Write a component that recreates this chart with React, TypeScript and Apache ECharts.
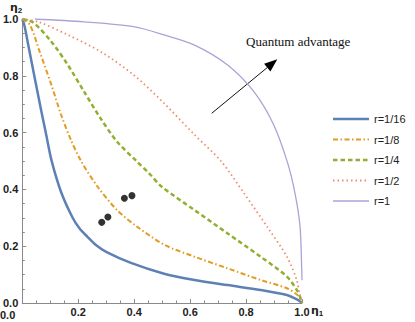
import React, { useEffect, useRef } from "react";
import * as echarts from "echarts";

const seriesNames = ["r=1/16", "r=1/8", "r=1/4", "r=1/2", "r=1"];

const r16: number[][] = [
  [0, 1], [0.008, 0.975], [0.025, 0.89], [0.045, 0.79], [0.065, 0.69], [0.085, 0.595],
  [0.104, 0.504], [0.139, 0.39], [0.18, 0.3], [0.205, 0.262], [0.233, 0.233], [0.262, 0.205],
  [0.3, 0.18], [0.386, 0.142], [0.504, 0.104], [0.616, 0.081], [0.734, 0.063], [0.852, 0.046],
  [0.946, 0.028], [0.985, 0.011], [1, 0],
];
const r8: number[][] = [
  [0, 1], [0.027, 0.98], [0.062, 0.885], [0.104, 0.768], [0.139, 0.662], [0.174, 0.574],
  [0.21, 0.5], [0.269, 0.41], [0.339, 0.327], [0.41, 0.269], [0.51, 0.204], [0.616, 0.163],
  [0.734, 0.122], [0.852, 0.081], [0.946, 0.052], [0.987, 0.025], [1, 0],
];
const r4: number[][] = [
  [0, 1], [0.039, 0.988], [0.104, 0.92], [0.163, 0.838], [0.221, 0.744], [0.28, 0.65],
  [0.339, 0.568], [0.41, 0.498], [0.455, 0.455], [0.498, 0.41], [0.616, 0.327], [0.734, 0.245],
  [0.852, 0.163], [0.946, 0.093], [0.987, 0.036], [1, 0],
];
const r2: number[][] = [
  [0, 1], [0.057, 0.99], [0.163, 0.944], [0.28, 0.885], [0.398, 0.803], [0.504, 0.706],
  [0.616, 0.592], [0.71, 0.5], [0.793, 0.386], [0.875, 0.269], [0.946, 0.163], [0.981, 0.081],
  [0.993, 0.022], [1, 0],
];
const r1: number[][] = [
  [0.045, 1], [0.221, 0.99], [0.398, 0.973], [0.507, 0.944], [0.616, 0.908], [0.734, 0.838],
  [0.828, 0.744], [0.899, 0.627], [0.948, 0.495], [0.975, 0.386], [0.993, 0.269], [0.999, 0.12], [1, 0.08],
];
const dots: number[][] = [[0.284, 0.284], [0.306, 0.303], [0.365, 0.369], [0.392, 0.378]];

const tickLabels = ["0.0", "0.2", "0.4", "0.6", "0.8", "1.0"];

const curveData = [r16, r8, r4, r2, r1];
const colors = ["#5E81B5", "#E19C24", "#8FB032", "#EF8B70", "#A9A3D6"];
const widths = [2.5, 2, 2.5, 1.8, 1.3];
const dashes: any[] = ["solid", [5, 2.5, 1.5, 2.5], [4.5, 3], [1.5, 3], "solid"];

export default function App() {
  const ref = useRef<HTMLDivElement>(null);
  useEffect(() => {
    if (!ref.current) return;
    const chart = echarts.init(ref.current, undefined, { renderer: "svg" });
    const labelStyle = {
      fontFamily: "Liberation Sans, Arial, sans-serif",
      fontWeight: "bold" as const,
      fontSize: 11,
      color: "#222",
    };
    const axisCommon = {
      type: "value" as const,
      min: 0,
      max: 1,
      interval: 0.2,
      splitLine: { show: false },
      axisLine: { show: true, lineStyle: { color: "#8a8a8a", width: 1 } },
      axisTick: { show: true, inside: true, length: 4, lineStyle: { color: "#8a8a8a" } },
      minorTick: { show: true, splitNumber: 4, length: 2.5, lineStyle: { color: "#8a8a8a" } },
    };
    const series: any[] = curveData.map((d, i) => ({
      name: seriesNames[i],
      type: "line",
      data: d,
      symbol: "none",
      showSymbol: false,
      smooth: 0.3,
      lineStyle: { color: colors[i], width: widths[i], type: dashes[i] },
      itemStyle: { color: colors[i] },
      z: 2 + i,
    }));
    series.push({
      name: "points",
      type: "scatter",
      data: dots,
      symbolSize: 7,
      itemStyle: { color: "#000" },
      z: 10,
    });
    // legend drawn as graphic elements
    const legendEls: any[] = [];
    seriesNames.forEach((name, i) => {
      const y = 119 + 20.5 * i;
      legendEls.push({
        type: "line",
        shape: { x1: 333, y1: y, x2: 369, y2: y },
        style: {
          stroke: colors[i],
          lineWidth: widths[i],
          lineDash: Array.isArray(dashes[i]) ? dashes[i] : null,
        },
      });
      legendEls.push({
        type: "text",
        x: 374,
        y: y,
        style: {
          text: name,
          fontFamily: "Liberation Sans, Arial, sans-serif",
          fontSize: 11,
          fill: "#222",
          verticalAlign: "middle",
        },
      });
    });
    // arrow geometry
    const tail = [211.7, 113.3];
    const tip = [277.3, 59.3];
    const dx = tip[0] - tail[0];
    const dy = tip[1] - tail[1];
    const len = Math.sqrt(dx * dx + dy * dy);
    const ux = dx / len, uy = dy / len;
    const hl = 13, hw = 5;
    const bx = tip[0] - hl * ux, by = tip[1] - hl * uy;
    const px = -uy, py = ux;
    const etaRich = {
      a: { fontFamily: "DejaVu Sans", fontWeight: "bold", fontSize: 11, fill: "#222" },
      b: { fontFamily: "Liberation Sans", fontWeight: "bold", fontSize: 8, fill: "#222", padding: [5, 0, 0, 0] },
    };
    chart.setOption({
      animation: false,
      grid: { left: 19, right: 113, top: 19, bottom: 19 },
      xAxis: {
        ...axisCommon,
        axisLabel: {
          ...labelStyle,
          margin: 3,
          lineHeight: 12,
          showMinLabel: false,
          formatter: (v: number) => tickLabels[Math.round(v / 0.2)],
        },
      },
      yAxis: {
        ...axisCommon,
        axisLabel: {
          ...labelStyle,
          margin: 4,
          lineHeight: 10,
          formatter: (v: number) => tickLabels[Math.round(v / 0.2)],
        },
      },
      graphic: [
        ...legendEls,
        {
          type: "text",
          x: 0,
          y: 309,
          style: {
            text: "0.0",
            fontFamily: "Liberation Sans, Arial, sans-serif",
            fontWeight: "bold",
            fontSize: 11,
            lineHeight: 11,
            fill: "#222",
          },
        },
        {
          type: "text",
          x: 10,
          y: 1,
          style: { text: "{a|η}{b|2}", rich: etaRich },
        },
        {
          type: "text",
          x: 311,
          y: 304,
          style: { text: "{a|η}{b|1}", rich: etaRich },
        },
        {
          type: "text",
          x: 246,
          y: 41,
          style: {
            text: "Quantum advantage",
            fontFamily: "Liberation Serif, Times New Roman, serif",
            fontSize: 13,
            fill: "#111",
            verticalAlign: "middle",
          },
        },
        {
          type: "line",
          shape: { x1: tail[0], y1: tail[1], x2: bx, y2: by },
          style: { stroke: "#111", lineWidth: 1 },
        },
        {
          type: "polygon",
          shape: {
            points: [
              [tip[0], tip[1]],
              [bx + hw * px, by + hw * py],
              [bx - hw * px, by - hw * py],
            ],
          },
          style: { fill: "#000" },
        },
      ],
      series,
    });
    return () => chart.dispose();
  }, []);
  return (
    <div
      ref={ref}
      style={{ position: "absolute", left: 0, top: 0, width: 415, height: 322, background: "#fff" }}
    />
  );
}
